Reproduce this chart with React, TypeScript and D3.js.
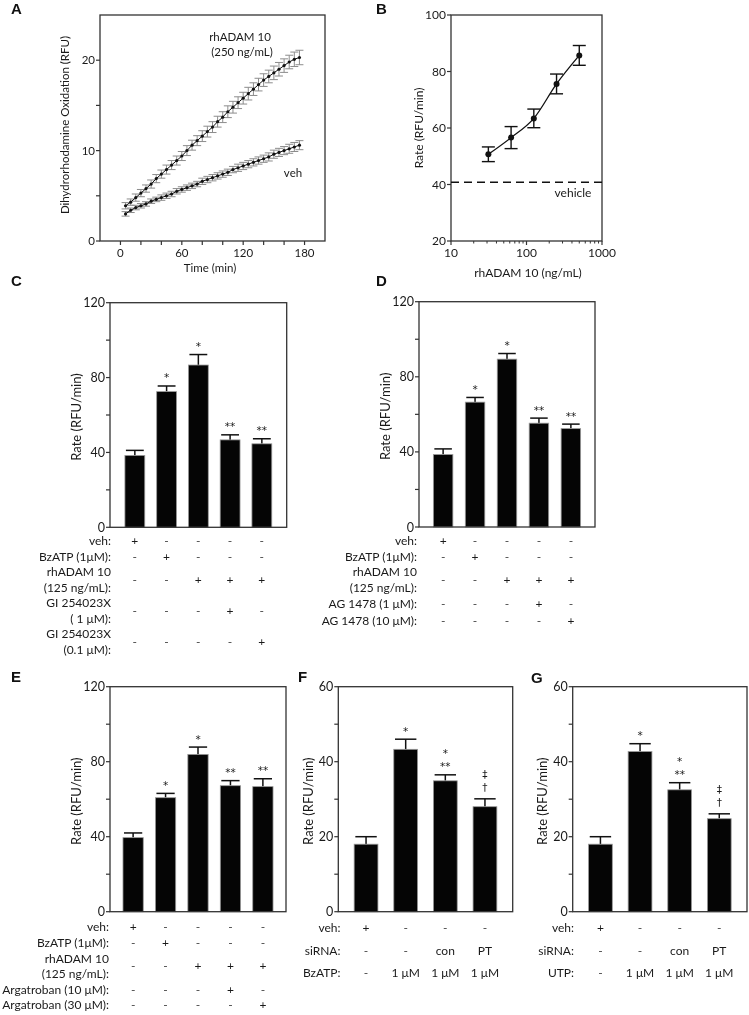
import React from "react";
import * as d3 from "d3";

// ---------- Panel A data ----------
const aTimes = [5, 10, 15, 20, 25, 30, 35, 40, 45, 50, 55, 60, 65, 70, 75, 80, 85, 90, 95, 100, 105, 110, 115, 120, 125, 130, 135, 140, 145, 150, 155, 160, 165, 170, 175];
const aRhadam = [3.9, 4.3, 4.8, 5.3, 5.8, 6.3, 6.9, 7.4, 7.9, 8.4, 8.9, 9.4, 10.0, 10.6, 11.1, 11.6, 12.1, 12.6, 13.2, 13.7, 14.3, 14.8, 15.3, 15.8, 16.3, 16.8, 17.3, 17.8, 18.2, 18.6, 19.0, 19.4, 19.8, 20.1, 20.3];
const aRhadamErr = [0.35, 0.35, 0.4, 0.4, 0.4, 0.45, 0.45, 0.45, 0.5, 0.5, 0.5, 0.5, 0.55, 0.55, 0.55, 0.6, 0.6, 0.6, 0.6, 0.6, 0.65, 0.65, 0.65, 0.65, 0.7, 0.7, 0.7, 0.7, 0.7, 0.75, 0.75, 0.75, 0.75, 0.8, 0.8];
const aVeh = [3.0, 3.4, 3.7, 3.9, 4.1, 4.4, 4.6, 4.8, 5.0, 5.2, 5.5, 5.7, 5.9, 6.1, 6.3, 6.6, 6.8, 7.0, 7.2, 7.4, 7.6, 7.9, 8.1, 8.3, 8.5, 8.7, 8.9, 9.1, 9.3, 9.6, 9.8, 10.0, 10.2, 10.4, 10.6];
const aVehErr = [0.25, 0.25, 0.25, 0.25, 0.25, 0.25, 0.25, 0.3, 0.3, 0.3, 0.3, 0.3, 0.3, 0.3, 0.3, 0.35, 0.35, 0.35, 0.35, 0.35, 0.35, 0.35, 0.4, 0.4, 0.4, 0.4, 0.4, 0.4, 0.45, 0.45, 0.45, 0.45, 0.5, 0.5, 0.5];
const aXTicks = [0, 60, 120, 180];
const aXMinor = [20, 40, 80, 100, 140, 160];
const aYTicks = [0, 10, 20];
const aYMinor = [5, 15];

// ---------- Panel B data ----------
const bConc = [31.25, 62.5, 125, 250, 500];
const bRate = [50.7, 56.6, 63.4, 75.6, 85.7];
const bErr = [2.6, 3.9, 3.3, 3.5, 3.5];
const bVehicle = 40.8;
const bXTicks = [10, 100, 1000];
const bYTicks = [20, 40, 60, 80, 100];

// ---------- Panel C data ----------
const cValues = [38.4, 72.5, 86.7, 46.7, 44.6];
const cErrors = [2.7, 3.0, 5.6, 2.7, 2.7];
const cMarks = [[], ["*"], ["*"], ["**"], ["**"]];
const cRowLabels = [["veh:"], ["BzATP (1μM):"], ["rhADAM 10", "(125 ng/mL):"], ["GI 254023X", "( 1 μM):"], ["GI 254023X", "(0.1 μM):"]];
const cRowValues = [["+", "-", "-", "-", "-"], ["-", "+", "-", "-", "-"], ["-", "-", "+", "+", "+"], ["-", "-", "-", "+", "-"], ["-", "-", "-", "-", "+"]];

// ---------- Panel D data ----------
const dValues = [38.6, 66.5, 89.4, 55.3, 52.4];
const dErrors = [3.0, 2.5, 3.0, 2.7, 2.4];
const dMarks = [[], ["*"], ["*"], ["**"], ["**"]];
const dRowLabels = [["veh:"], ["BzATP (1μM):"], ["rhADAM 10", "(125 ng/mL):"], ["AG 1478 (1 μM):"], ["AG 1478 (10 μM):"]];
const dRowValues = [["+", "-", "-", "-", "-"], ["-", "+", "-", "-", "-"], ["-", "-", "+", "+", "+"], ["-", "-", "-", "+", "-"], ["-", "-", "-", "-", "+"]];

// ---------- Panel E data ----------
const eValues = [39.5, 60.8, 83.9, 67.2, 66.7];
const eErrors = [2.5, 2.3, 3.9, 2.7, 4.2];
const eMarks = [[], ["*"], ["*"], ["**"], ["**"]];
const eRowLabels = [["veh:"], ["BzATP (1μM):"], ["rhADAM 10", "(125 ng/mL):"], ["Argatroban (10 μM):"], ["Argatroban (30 μM):"]];
const eRowValues = [["+", "-", "-", "-", "-"], ["-", "+", "-", "-", "-"], ["-", "-", "+", "+", "+"], ["-", "-", "-", "+", "-"], ["-", "-", "-", "-", "+"]];

// ---------- Panel F data ----------
const fValues = [18.0, 43.3, 34.9, 28.0];
const fErrors = [2.0, 2.7, 1.6, 2.1];
const fMarks = [[], ["*"], ["*", "**"], ["‡", "†"]];
const fRowLabels = [["veh:"], ["siRNA:"], ["BzATP:"]];
const fRowValues = [["+", "-", "-", "-"], ["-", "-", "con", "PT"], ["-", "1 μM", "1 μM", "1 μM"]];

// ---------- Panel G data ----------
const gValues = [18.0, 42.7, 32.5, 24.8];
const gErrors = [2.0, 2.1, 1.9, 1.3];
const gMarks = [[], ["*"], ["*", "**"], ["‡", "†"]];
const gRowLabels = [["veh:"], ["siRNA:"], ["UTP:"]];
const gRowValues = [["+", "-", "-", "-"], ["-", "-", "con", "PT"], ["-", "1 μM", "1 μM", "1 μM"]];

const bar120Ticks = [0, 40, 80, 120];
const bar120Minor = [20, 60, 100];
const bar60Ticks = [0, 20, 40, 60];
const bar60Minor = [10, 30, 50];

const FONT = "Lato, 'Open Sans', sans-serif";
const MARK_FONT = "'DejaVu Sans', sans-serif";
const TXT = "#1a1a1a";
const AX = "#333";

function Letter({ x, y, t }: { x: number; y: number; t: string }) {
  return (
    <text x={x} y={y} fontFamily="'Liberation Sans', Arial, sans-serif" fontWeight="bold" fontSize={15} fill="#111">
      {t}
    </text>
  );
}

function Frame({ l, t, r, b }: any) {
  return <rect x={l} y={t} width={r - l} height={b - t} fill="none" stroke={AX} strokeWidth={1.3} />;
}

function YAxis({ scale, left, ticks, minor, fs = 12 }: any) {
  return (
    <g>
      {ticks.map((v: number) => (
        <g key={"t" + v}>
          <line x1={left - 4} x2={left} y1={scale(v)} y2={scale(v)} stroke={AX} strokeWidth={1.2} />
          <text x={left - 5} y={scale(v)} dy="0.36em" textAnchor="end" fontFamily={FONT} fontSize={fs} fill={TXT}>
            {v}
          </text>
        </g>
      ))}
      {minor.map((v: number) => (
        <line key={"m" + v} x1={left - 4} x2={left} y1={scale(v)} y2={scale(v)} stroke={AX} strokeWidth={1.2} />
      ))}
    </g>
  );
}

function PanelA() {
  const l = 100, t = 15, r = 325, b = 241;
  const fs = 11.5;
  const x = d3.scaleLinear().domain([-20, 200]).range([l, r]);
  const y = d3.scaleLinear().domain([0, 25]).range([b, t]);
  const line = d3.line<number>().x((_, i) => x(aTimes[i])).y((d) => y(d));
  const series = [
    { v: aRhadam, e: aRhadamErr },
    { v: aVeh, e: aVehErr },
  ];
  return (
    <g>
      <Letter x={11} y={14} t="A" />
      <Frame l={l} t={t} r={r} b={b} />
      <YAxis scale={y} left={l} ticks={aYTicks} minor={aYMinor} fs={fs} />
      {aXTicks.map((v) => (
        <g key={v}>
          <line x1={x(v)} x2={x(v)} y1={b} y2={b + 4} stroke={AX} strokeWidth={1.2} />
          <text x={x(v)} y={b + 16} textAnchor="middle" fontFamily={FONT} fontSize={fs} fill={TXT}>
            {v}
          </text>
        </g>
      ))}
      {aXMinor.map((v) => (
        <line key={"m" + v} x1={x(v)} x2={x(v)} y1={b} y2={b + 4} stroke={AX} strokeWidth={1.2} />
      ))}
      {series.map((s, si) => (
        <g key={si}>
          {s.v.map((v, i) => {
            const cx = x(aTimes[i]);
            return (
              <g key={i} stroke="#8c8c8c" strokeWidth={1}>
                <line x1={cx} x2={cx} y1={y(v - s.e[i])} y2={y(v + s.e[i])} />
                <line x1={cx - 4} x2={cx + 4} y1={y(v - s.e[i])} y2={y(v - s.e[i])} />
                <line x1={cx - 4} x2={cx + 4} y1={y(v + s.e[i])} y2={y(v + s.e[i])} />
              </g>
            );
          })}
          <path d={line(s.v) || ""} fill="none" stroke="#111" strokeWidth={1} />
          {s.v.map((v, i) => (
            <circle key={"p" + i} cx={x(aTimes[i])} cy={y(v)} r={1.6} fill="#111" />
          ))}
        </g>
      ))}
      <text x={240} y={41} textAnchor="middle" fontFamily={FONT} fontSize={fs} fill={TXT}>rhADAM 10</text>
      <text x={242} y={56} textAnchor="middle" fontFamily={FONT} fontSize={fs} fill={TXT}>(250 ng/mL)</text>
      <text x={293} y={177} textAnchor="middle" fontFamily={FONT} fontSize={fs} fill={TXT}>veh</text>
      <text x={210} y={272} textAnchor="middle" fontFamily={FONT} fontSize={fs} fill={TXT}>Time (min)</text>
      <text transform={`translate(65,${(t + b) / 2 - 3}) rotate(-90)`} dy="0.36em" textAnchor="middle" fontFamily={FONT} fontSize={fs} fill={TXT}>
        Dihydrorhodamine Oxidation (RFU)
      </text>
    </g>
  );
}

function PanelB() {
  const l = 451, t = 15, r = 602, b = 241;
  const x = d3.scaleLog().domain([10, 1000]).range([l, r]);
  const y = d3.scaleLinear().domain([20, 100]).range([b, t]);
  const minorTicks = x.ticks().filter((v) => !bXTicks.includes(v));
  const line = d3
    .line<number>()
    .x((_, i) => x(bConc[i]))
    .y((d) => y(d))
    .curve(d3.curveMonotoneX);
  return (
    <g>
      <Letter x={376} y={14} t="B" />
      <Frame l={l} t={t} r={r} b={b} />
      <YAxis scale={y} left={l} ticks={bYTicks} minor={[]} />
      {bXTicks.map((v) => (
        <g key={v}>
          <line x1={x(v)} x2={x(v)} y1={b} y2={b + 4} stroke={AX} strokeWidth={1.2} />
          <text x={x(v)} y={b + 16} textAnchor="middle" fontFamily={FONT} fontSize={12} fill={TXT}>
            {v}
          </text>
        </g>
      ))}
      {minorTicks.map((v) => (
        <line key={"m" + v} x1={x(v)} x2={x(v)} y1={b} y2={b + 2.5} stroke={AX} strokeWidth={1} />
      ))}
      <line x1={l} x2={r} y1={y(bVehicle)} y2={y(bVehicle)} stroke="#111" strokeWidth={1.5} strokeDasharray="8,5" />
      <text x={573} y={197} textAnchor="middle" fontFamily={FONT} fontSize={12} fill={TXT}>vehicle</text>
      {bRate.map((v, i) => {
        const cx = x(bConc[i]);
        return (
          <g key={i} stroke="#111" strokeWidth={1.4}>
            <line x1={cx} x2={cx} y1={y(v - bErr[i])} y2={y(v + bErr[i])} />
            <line x1={cx - 6.5} x2={cx + 6.5} y1={y(v - bErr[i])} y2={y(v - bErr[i])} />
            <line x1={cx - 6.5} x2={cx + 6.5} y1={y(v + bErr[i])} y2={y(v + bErr[i])} />
          </g>
        );
      })}
      <path d={line(bRate) || ""} fill="none" stroke="#111" strokeWidth={1.3} />
      {bRate.map((v, i) => (
        <circle key={"p" + i} cx={x(bConc[i])} cy={y(v)} r={3} fill="#111" />
      ))}
      <text x={528} y={277} textAnchor="middle" fontFamily={FONT} fontSize={12} fill={TXT}>rhADAM 10 (ng/mL)</text>
      <text transform={`translate(419,${(t + b) / 2}) rotate(-90)`} dy="0.36em" textAnchor="middle" fontFamily={FONT} fontSize={12} fill={TXT}>
        Rate (RFU/min)
      </text>
    </g>
  );
}

function markOffset(s: string) {
  return s.includes("*") ? 6.5 : 3;
}

function BarPanel(props: any) {
  const { l, t, r, b, ymax, ticks, minor, values, errors, marks, rowLabels, rowValues, rowYs, labelX, letter, letterPos, yLabelX, pad, titleFs } = props;
  const x = d3
    .scaleBand<number>()
    .domain(values.map((_: number, i: number) => i))
    .range([l, r])
    .paddingInner(pad[0])
    .paddingOuter(pad[1]);
  const y = d3.scaleLinear().domain([0, ymax]).range([b, t]);
  const bw = x.bandwidth();
  return (
    <g>
      <Letter x={letterPos[0]} y={letterPos[1]} t={letter} />
      {values.map((v: number, i: number) => {
        const x0 = x(i) as number;
        const cx = x0 + bw / 2;
        const top = y(v + errors[i]);
        const m: string[] = marks[i];
        return (
          <g key={i}>
            <line x1={cx} x2={cx} y1={y(v)} y2={top} stroke="#111" strokeWidth={1.5} />
            <line x1={cx - bw * 0.45} x2={cx + bw * 0.45} y1={top} y2={top} stroke="#111" strokeWidth={1.5} />
            <rect x={x0} y={y(v)} width={bw} height={y(0) - y(v)} fill="#050505" stroke="#9a9a9a" strokeWidth={0.8} />
            {m.map((s, k) => {
              const center = top - 11 - (m.length - 1 - k) * 13;
              return (
                <text key={k} x={cx} y={center + markOffset(s)} textAnchor="middle" fontFamily={MARK_FONT} fontSize={10.5} fill={TXT}>
                  {s}
                </text>
              );
            })}
          </g>
        );
      })}
      <Frame l={l} t={t} r={r} b={b} />
      <YAxis scale={y} left={l} ticks={ticks} minor={minor} fs={12.5} />
      <text transform={`translate(${yLabelX},${(t + b) / 2 + 2}) rotate(-90)`} dy="0.36em" textAnchor="middle" fontFamily={FONT} fontSize={titleFs} fill={TXT}>
        Rate (RFU/min)
      </text>
      {rowLabels.map((lines: string[], ri: number) => {
        const cy = rowYs[ri];
        return (
          <g key={ri}>
            {lines.map((s, k) => (
              <text
                key={k}
                x={labelX}
                y={cy + (k - (lines.length - 1) / 2) * 15.5}
                dy="0.36em"
                textAnchor="end"
                fontFamily={FONT}
                fontSize={12}
                fill={TXT}
              >
                {s}
              </text>
            ))}
            {rowValues[ri].map((s: string, ci: number) => (
              <text
                key={"v" + ci}
                x={(x(ci) as number) + bw / 2}
                y={cy}
                dy="0.36em"
                textAnchor="middle"
                fontFamily={FONT}
                fontSize={12}
                fill={s === "-" ? "#444" : TXT}
              >
                {s}
              </text>
            ))}
          </g>
        );
      })}
    </g>
  );
}

export default function App() {
  return (
    <div style={{ position: "absolute", left: 0, top: 0 }}>
      <svg width={749} height={1015} viewBox="0 0 749 1015" style={{ display: "block", background: "#fff", willChange: "transform" }}>
        <rect x={0} y={0} width={749} height={1015} fill="#fff" />
        <PanelA />
        <PanelB />
        <BarPanel
          l={110} t={302.7} r={286.7} b={527.3} ymax={120} ticks={bar120Ticks} minor={bar120Minor}
          values={cValues} errors={cErrors} marks={cMarks} rowLabels={cRowLabels} rowValues={cRowValues}
          rowYs={[540.5, 557, 579.5, 610.5, 641.5]} labelX={111} letter="C" letterPos={[11, 286]} yLabelX={76} pad={[0.375, 0.47]} titleFs={13}
        />
        <BarPanel
          l={419} t={301.7} r={595} b={527} ymax={120} ticks={bar120Ticks} minor={bar120Minor}
          values={dValues} errors={dErrors} marks={dMarks} rowLabels={dRowLabels} rowValues={dRowValues}
          rowYs={[540.5, 557, 579.5, 603.3, 620.7]} labelX={417} letter="D" letterPos={[376, 286]} yLabelX={385} pad={[0.39, 0.45]} titleFs={13}
        />
        <BarPanel
          l={110} t={686.7} r={286} b={911.7} ymax={120} ticks={bar120Ticks} minor={bar120Minor}
          values={eValues} errors={eErrors} marks={eMarks} rowLabels={eRowLabels} rowValues={eRowValues}
          rowYs={[926.5, 942.7, 966, 989.3, 1005]} labelX={109} letter="E" letterPos={[11, 682]} yLabelX={76.7} pad={[0.375, 0.4]} titleFs={13}
        />
        <BarPanel
          l={338.3} t={686.7} r={512.7} b={911.7} ymax={60} ticks={bar60Ticks} minor={bar60Minor}
          values={fValues} errors={fErrors} marks={fMarks} rowLabels={fRowLabels} rowValues={fRowValues}
          rowYs={[927.3, 950.7, 972.7]} labelX={340.5} letter="F" letterPos={[298, 682]} yLabelX={308.3} pad={[0.4, 0.4]} titleFs={13}
        />
        <BarPanel
          l={572.7} t={686.7} r={747} b={911.7} ymax={60} ticks={bar60Ticks} minor={bar60Minor}
          values={gValues} errors={gErrors} marks={gMarks} rowLabels={gRowLabels} rowValues={gRowValues}
          rowYs={[927.3, 950.7, 972.7]} labelX={574} letter="G" letterPos={[531, 683]} yLabelX={542.7} pad={[0.4, 0.4]} titleFs={13}
        />
      </svg>
    </div>
  );
}
